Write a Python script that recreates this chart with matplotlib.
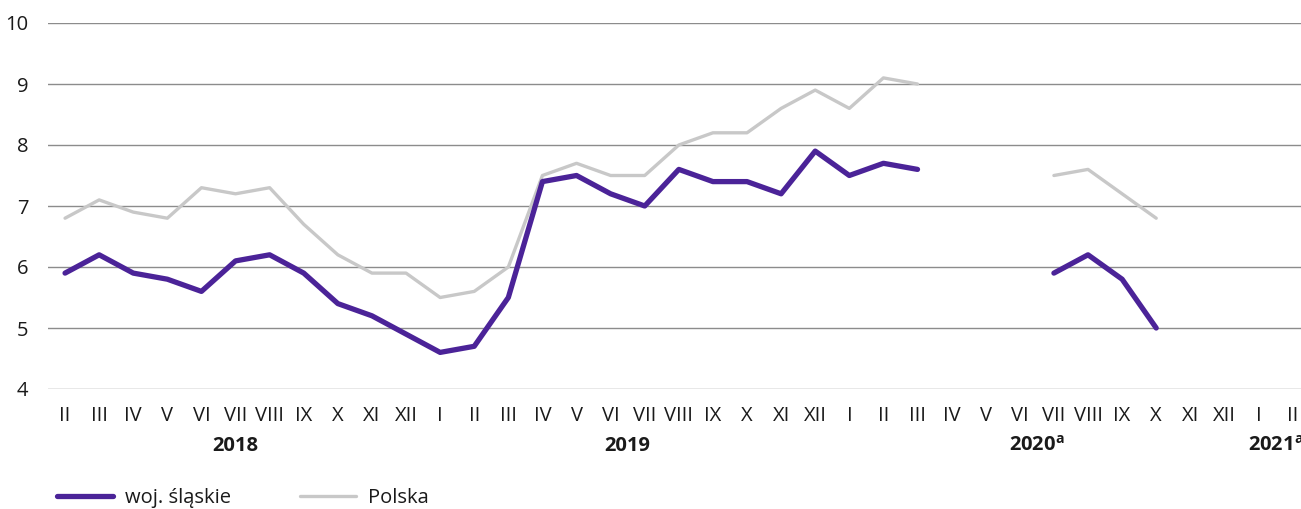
import numpy as np
import matplotlib
matplotlib.use("Agg")
import matplotlib.pyplot as plt
import matplotlib.transforms as mtransforms

plt.rcParams['font.family'] = ['Open Sans', 'DejaVu Sans']
plt.rcParams['mathtext.fontset'] = 'custom'
plt.rcParams['mathtext.rm'] = 'Open Sans'
plt.rcParams['mathtext.bf'] = 'Open Sans:bold'

months = ["II", "III", "IV", "V", "VI", "VII", "VIII", "IX", "X", "XI", "XII",
          "I", "II", "III", "IV", "V", "VI", "VII", "VIII", "IX", "X", "XI", "XII",
          "I", "II", "III", "IV", "V", "VI", "VII", "VIII", "IX", "X", "XI", "XII",
          "I", "II"]
years = [r"2018", r"2019", r"2020$^{\mathbf{a}}$", r"2021$^{\mathbf{a}}$"]
year_start = [0, 11, 23, 35]
year_end = [10, 22, 34, 36]

nan = np.nan
slaskie = [5.9, 6.2, 5.9, 5.8, 5.6, 6.1, 6.2, 5.9, 5.4, 5.2, 4.9,
           4.6, 4.7, 5.5, 7.4, 7.5, 7.2, 7.0, 7.6, 7.4, 7.4, 7.2, 7.9,
           7.5, 7.7, 7.6, nan, nan, nan, 5.9, 6.2, 5.8, 5.0, nan, nan,
           nan, nan]
polska = [6.8, 7.1, 6.9, 6.8, 7.3, 7.2, 7.3, 6.7, 6.2, 5.9, 5.9,
          5.5, 5.6, 6.0, 7.5, 7.7, 7.5, 7.5, 8.0, 8.2, 8.2, 8.6, 8.9,
          8.6, 9.1, 9.0, nan, nan, nan, 7.5, 7.6, 7.2, 6.8, nan, nan,
          nan, nan]

W, H = 1301, 509
FS = 14.5
fig = plt.figure(figsize=(W / 100, H / 100), dpi=100)
ax = fig.add_axes([48 / W, (H - 389) / H, 1 - 48 / W, (389 - 23) / H])

x = np.arange(len(months))
ax.plot(x, polska, color="#C8C8C8", lw=2.4, solid_capstyle="round", label="Polska", zorder=3)
ax.plot(x, slaskie, color="#4B2398", lw=3.8, solid_capstyle="round", label="woj. śląskie", zorder=4)

ax.set_xlim(-0.5, (W - 65) / 34.1)
ax.set_ylim(4, 10)
ax.set_yticks(range(4, 11))
ax.yaxis.grid(True, color="#8C8C8C", lw=1.0)
ax.set_axisbelow(True)
for s in ax.spines.values():
    s.set_visible(False)
ax.set_xticks(x)
ax.set_xticklabels(months, fontsize=FS, color="#1a1a1a")
ax.tick_params(axis="both", length=0)
ax.tick_params(axis="x", pad=12)
ax.tick_params(axis="y", labelsize=FS, labelcolor="#1a1a1a", pad=14)
for lbl in ax.get_yticklabels():
    lbl.set_horizontalalignment("right")

trans = mtransforms.blended_transform_factory(ax.transData, fig.transFigure)
for y, s0, s1 in zip(years, year_start, year_end):
    ax.text((s0 + s1) / 2, (H - 446) / H, y, transform=trans, ha="center", va="center",
            fontsize=FS, fontweight="bold", color="#1a1a1a")

handles, labels = ax.get_legend_handles_labels()
leg = fig.legend(handles[::-1], labels[::-1], loc="center left",
                 bbox_to_anchor=(57 / W, (H - 498) / H), ncol=2, frameon=False,
                 fontsize=FS, handlelength=2.8, columnspacing=3.4, handletextpad=0.6,
                 borderaxespad=0, borderpad=0)
for t in leg.get_texts():
    t.set_color("#1a1a1a")

fig.savefig("out.png", dpi=100)
